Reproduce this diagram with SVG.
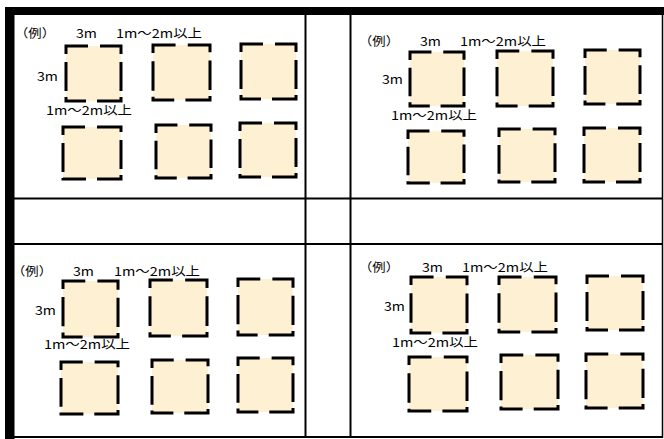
<svg xmlns="http://www.w3.org/2000/svg" width="664" height="439" viewBox="0 0 664 439">
<style>
.bg{fill:#ffffff}
.band{fill:#000000}
.grid{stroke:#000000;stroke-width:2;fill:none}
.sq{fill:#FEF0D2;stroke:#000000;stroke-width:3;stroke-dasharray:30 12 29 8 29 6 28 11 24 6 29 8;stroke-linejoin:miter;stroke-linecap:butt}
.t{font-family:"Noto Sans CJK JP","Liberation Sans",sans-serif;font-size:12px;fill:#000000}
</style>
<rect class="bg" x="0" y="0" width="664" height="439"/>
<g id="table">
  <rect class="band" x="5" y="7" width="659" height="8"/>
  <rect class="band" x="5" y="7" width="9.5" height="432"/>
  <line class="grid" x1="662.5" y1="15" x2="662.5" y2="438" style="stroke-width:1.5"/>
  <line class="grid" x1="14" y1="437" x2="663" y2="437"/>
  <line class="grid" x1="305.5" y1="15" x2="305.5" y2="437"/>
  <line class="grid" x1="350.5" y1="15" x2="350.5" y2="437"/>
  <line class="grid" x1="14" y1="198.5" x2="663" y2="198.5"/>
  <line class="grid" x1="14" y1="244" x2="663" y2="244"/>
</g>
<g id="panel-top-left">
  <path class="sq" pathLength="220" d="M66,54 V46 H121 V101 H66 Z"/>
  <path class="sq" pathLength="220" d="M153,53 V45 H210 V100 H153 Z"/>
  <path class="sq" pathLength="220" d="M241,52 V44 H296 V99 H241 Z"/>
  <path class="sq" pathLength="220" d="M63,135 V127 H121 V179 H63 Z"/>
  <path class="sq" pathLength="220" d="M156,133 V125 H211 V178 H156 Z"/>
  <path class="sq" pathLength="220" d="M240,131 V123 H296 V177 H240 Z"/>
  <text class="t" x="15" y="38" textLength="40" lengthAdjust="spacingAndGlyphs">（例）</text>
  <text class="t" x="76" y="38" textLength="21" lengthAdjust="spacingAndGlyphs">3m</text>
  <text class="t" x="116" y="38" textLength="86" lengthAdjust="spacingAndGlyphs">1m～2m以上</text>
  <text class="t" x="37" y="81" textLength="21" lengthAdjust="spacingAndGlyphs">3m</text>
  <text class="t" x="46" y="115" textLength="86" lengthAdjust="spacingAndGlyphs">1m～2m以上</text>
</g>
<g id="panel-top-right">
  <path class="sq" pathLength="220" d="M410,60 V52 H464 V106 H410 Z"/>
  <path class="sq" pathLength="220" d="M497,59 V51 H553 V106 H497 Z"/>
  <path class="sq" pathLength="220" d="M585,58 V50 H640 V104 H585 Z"/>
  <path class="sq" pathLength="220" d="M408,139 V131 H464 V183 H408 Z"/>
  <path class="sq" pathLength="220" d="M499,137 V129 H555 V182 H499 Z"/>
  <path class="sq" pathLength="220" d="M584,136 V128 H640 V182 H584 Z"/>
  <text class="t" x="359" y="46" textLength="40" lengthAdjust="spacingAndGlyphs">（例）</text>
  <text class="t" x="420" y="46" textLength="21" lengthAdjust="spacingAndGlyphs">3m</text>
  <text class="t" x="460" y="46" textLength="86" lengthAdjust="spacingAndGlyphs">1m～2m以上</text>
  <text class="t" x="382" y="84" textLength="21" lengthAdjust="spacingAndGlyphs">3m</text>
  <text class="t" x="391" y="120" textLength="86" lengthAdjust="spacingAndGlyphs">1m～2m以上</text>
</g>
<g id="panel-bottom-left">
  <path class="sq" pathLength="220" d="M63,289 V281 H118 V337 H63 Z"/>
  <path class="sq" pathLength="220" d="M150,288 V280 H207 V336 H150 Z"/>
  <path class="sq" pathLength="220" d="M238,287 V279 H293 V335 H238 Z"/>
  <path class="sq" pathLength="220" d="M61,370 V362 H118 V414 H61 Z"/>
  <path class="sq" pathLength="220" d="M152,368 V360 H208 V413 H152 Z"/>
  <path class="sq" pathLength="220" d="M238,366 V358 H293 V412 H238 Z"/>
  <text class="t" x="12" y="276" textLength="40" lengthAdjust="spacingAndGlyphs">（例）</text>
  <text class="t" x="73" y="276" textLength="21" lengthAdjust="spacingAndGlyphs">3m</text>
  <text class="t" x="114" y="276" textLength="86" lengthAdjust="spacingAndGlyphs">1m～2m以上</text>
  <text class="t" x="35" y="315" textLength="21" lengthAdjust="spacingAndGlyphs">3m</text>
  <text class="t" x="44" y="349" textLength="86" lengthAdjust="spacingAndGlyphs">1m～2m以上</text>
</g>
<g id="panel-bottom-right">
  <path class="sq" pathLength="220" d="M411,285 V277 H467 V333 H411 Z"/>
  <path class="sq" pathLength="220" d="M499,285 V277 H556 V332 H499 Z"/>
  <path class="sq" pathLength="220" d="M587,284 V276 H643 V330 H587 Z"/>
  <path class="sq" pathLength="220" d="M409,365 V357 H467 V411 H409 Z"/>
  <path class="sq" pathLength="220" d="M501,363 V355 H558 V409 H501 Z"/>
  <path class="sq" pathLength="220" d="M586,362 V354 H643 V408 H586 Z"/>
  <text class="t" x="359" y="272" textLength="40" lengthAdjust="spacingAndGlyphs">（例）</text>
  <text class="t" x="422" y="272" textLength="21" lengthAdjust="spacingAndGlyphs">3m</text>
  <text class="t" x="462" y="272" textLength="86" lengthAdjust="spacingAndGlyphs">1m～2m以上</text>
  <text class="t" x="384" y="311" textLength="21" lengthAdjust="spacingAndGlyphs">3m</text>
  <text class="t" x="392" y="347" textLength="86" lengthAdjust="spacingAndGlyphs">1m～2m以上</text>
</g>
</svg>
